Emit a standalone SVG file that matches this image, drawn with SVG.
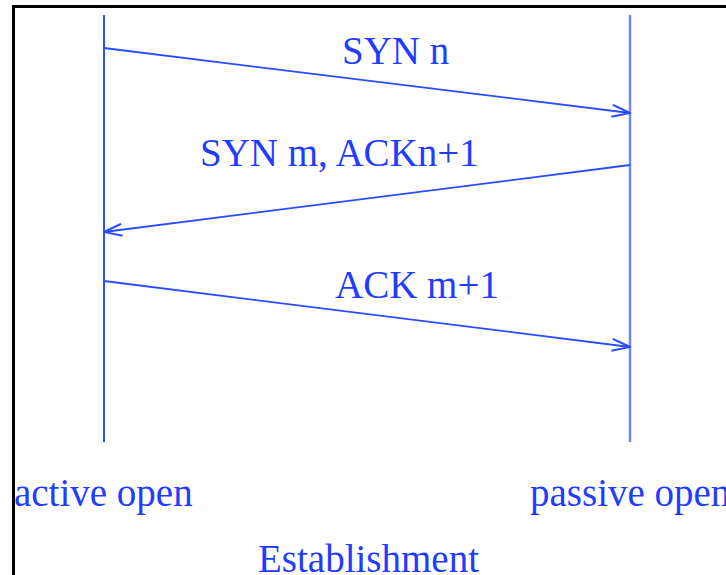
<svg xmlns="http://www.w3.org/2000/svg" width="726" height="575" viewBox="0 0 726 575">
  <style>
    .life { stroke: #2a4cff; stroke-width: 2; fill: none; }
    .life-b { stroke: #6f86ff; stroke-width: 2.5; fill: none; }
    .msg { stroke: #2a4cff; stroke-width: 1.8; fill: none; marker-end: url(#open); }
    text { font-family: "Liberation Serif", "Times New Roman", serif; font-size: 39px; fill: #1f3cff; }
  </style>
  <defs>
    <marker id="open" viewBox="0 0 20 14" refX="19" refY="7" markerWidth="20" markerHeight="14" markerUnits="userSpaceOnUse" orient="auto">
      <path d="M1,1 L19,7 L1,13" fill="none" stroke="#2a4cff" stroke-width="2"/>
    </marker>
  </defs>
  <rect width="726" height="575" fill="#ffffff"/>
  <!-- frame -->
  <rect x="13.5" y="6.5" width="730" height="600" fill="none" stroke="#000000" stroke-width="3"/>

  <g id="active">
    <line class="life" x1="104" y1="15" x2="104" y2="442"/>
    <text x="14" y="506">active open</text>
  </g>
  <g id="passive">
    <line class="life-b" x1="630" y1="15" x2="630" y2="442"/>
    <text x="530" y="506">passive open</text>
  </g>

  <g id="connectors">
    <line class="msg" x1="104" y1="48" x2="630" y2="113"/>
    <line class="msg" x1="630" y1="165" x2="104" y2="232"/>
    <line class="msg" x1="104" y1="281" x2="630" y2="347"/>
  </g>

  <g id="labels">
    <text x="342" y="64">SYN n</text>
    <text x="200" y="166">SYN m, ACKn+1</text>
    <text x="335" y="298">ACK m+1</text>
    <text x="258" y="572">Establishment</text>
  </g>
</svg>
